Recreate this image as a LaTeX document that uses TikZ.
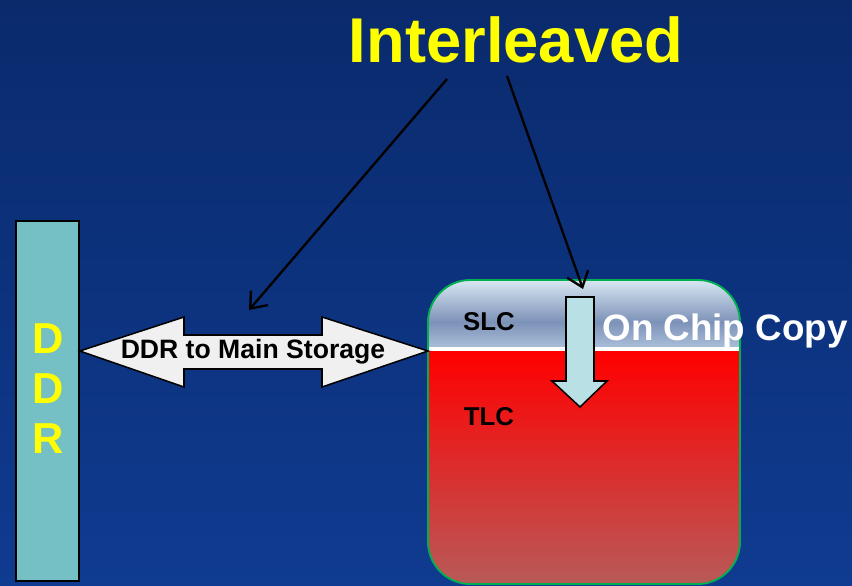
\documentclass[tikz,border=0pt]{standalone}
\usepackage{fontspec}
\setmainfont{Liberation Sans}
\usetikzlibrary{arrows.meta, positioning, calc}
\definecolor{bgTop}{HTML}{0A2A6C}
\definecolor{bgBot}{HTML}{0F3B90}
\definecolor{ddrTeal}{HTML}{74C0C4}
\definecolor{copyTeal}{HTML}{B9E0E4}
\definecolor{busGray}{HTML}{F0F0F0}
\definecolor{chipGreen}{HTML}{00B050}
\definecolor{slcTop}{HTML}{D8E7F2}
\definecolor{slcMid}{HTML}{7D92B8}
\definecolor{slcBot}{HTML}{A9BED8}
\definecolor{tlcTop}{HTML}{FF0000}
\definecolor{tlcBot}{HTML}{B85A58}
\definecolor{hiYellow}{HTML}{FFFF00}

\begin{document}
\begin{tikzpicture}[
  x=0.03cm, y=-0.03cm,
  bigtxt/.style={
    font=\bfseries\fontsize{#1}{#1}\selectfont,
    inner sep=0pt
  },
  celltxt/.style={
    font=\bfseries\fontsize{22}{24}\selectfont,
    text=black, inner sep=0pt
  },
  blockarr/.style={draw=black, line width=1.3pt, line join=miter},
  ptr/.style={-{Straight Barb[length=12pt, width=19pt, line width=2pt]},
    line width=2pt, black}
]

%% ═══ BACKGROUND ═══
\shade[top color=bgTop, bottom color=bgBot] (0,0) rectangle (852,585);
\useasboundingbox (0,0) rectangle (852,585);

%% ═══ TITLE ═══
\node[bigtxt=54, text=hiYellow] (title) at (516,40) {Interleaved};

%% ═══ DDR ═══
\node[draw=black, line width=1.5pt, fill=ddrTeal, minimum width=63*0.03cm,
  minimum height=360*0.03cm, inner sep=0pt, anchor=north west]
  (ddrbar) at (15,220) {};
\node[font=\bfseries\fontsize{37}{42.7}\selectfont, text=hiYellow,
  align=center, inner sep=0pt] (ddrlbl) at (48,389) {D\\D\\R};

%% ═══ NAND CHIP ═══
\begin{scope}
  \clip[rounded corners=36pt] (428,280) rectangle (740,584);
  \shade[top color=slcTop, bottom color=slcMid] (428,280) rectangle (740,322);
  \shade[top color=slcMid, bottom color=slcBot] (428,322) rectangle (740,347);
  \fill[white] (428,347) rectangle (740,351);
  \shade[top color=tlcTop, bottom color=tlcBot] (428,351) rectangle (740,584);
\end{scope}
\draw[chipGreen, line width=1.6pt, rounded corners=36pt]
  (428,280) rectangle (740,584);
\coordinate (chipW) at (428,351);

\node[celltxt] (slc) at (489,322) {SLC};
\node[celltxt] (tlc) at (489,417) {TLC};

%% ═══ DDR <-> MAIN STORAGE ═══
\draw[blockarr, fill=busGray]
  (ddrbar.east |- chipW) -- (184,317) -- (184,335) -- (322,335) -- (322,317)
  -- (chipW) -- (322,387) -- (322,369) -- (184,369) -- (184,387) -- cycle;
\node[bigtxt=22.7, text=black] (xferlbl) at (253,352) {DDR to Main Storage};
\coordinate (xferTop) at (249,310);

%% ═══ ON CHIP COPY ═══
\draw[blockarr, fill=copyTeal]
  (566,297) -- (594,297) -- (594,381) -- (607,381) -- (580,407)
  -- (552,381) -- (566,381) -- cycle;
\coordinate (copyTop) at (583,289);
\node[bigtxt=31.4, text=white] (copylbl) at (725,331) {On Chip Copy};

%% ═══ POINTERS ═══
\coordinate (srcL) at (447,79);
\coordinate (srcR) at (507,76);
\draw[ptr] (srcL) -- (xferTop);
\draw[ptr] (srcR) -- (copyTop);

\end{tikzpicture}
\end{document}
